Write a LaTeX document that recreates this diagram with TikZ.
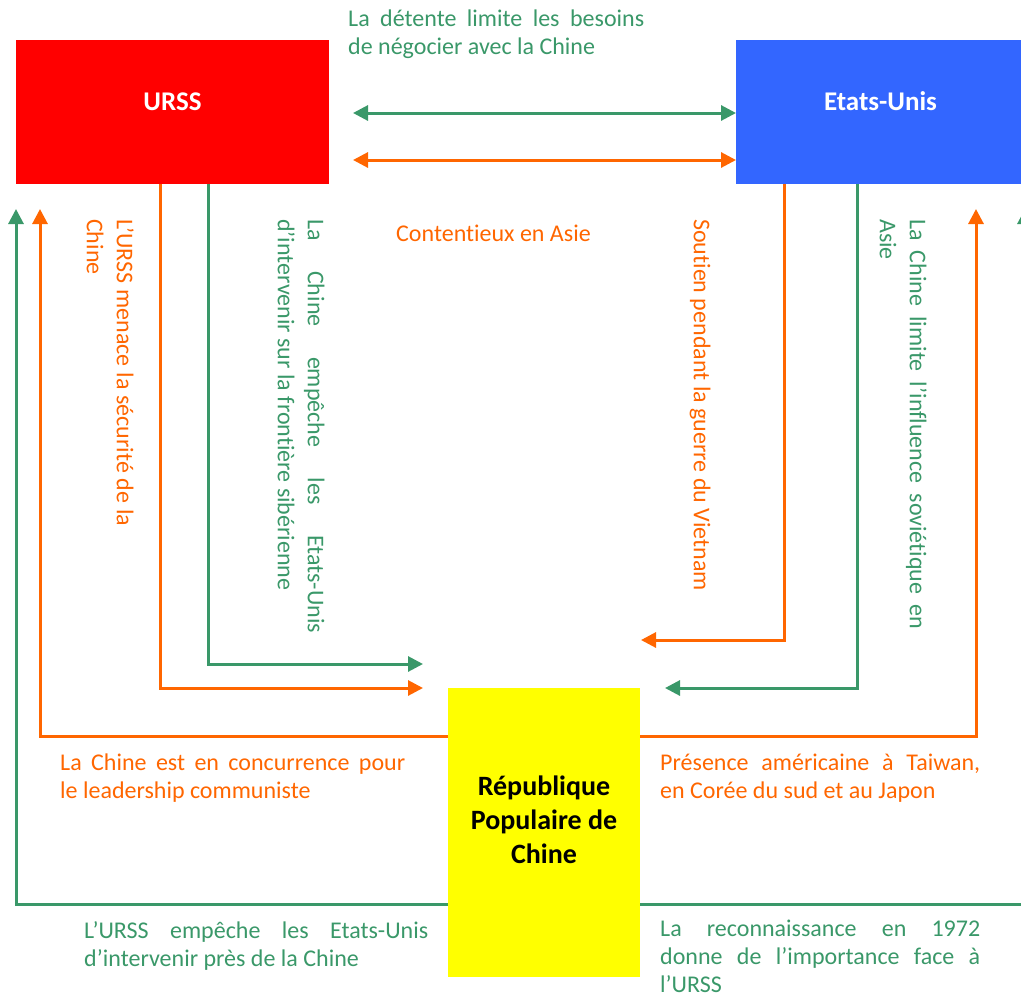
\documentclass[tikz,border=0pt]{standalone}
\usepackage{fontspec}
\setmainfont{Carlito}[Ligatures=NoCommon]
\usetikzlibrary{arrows.meta}
\definecolor{cgreen}{RGB}{58,152,105}
\definecolor{corange}{RGB}{255,102,0}
\definecolor{cred}{RGB}{255,0,0}
\definecolor{cblue}{RGB}{51,102,255}
\definecolor{cyellow}{RGB}{255,255,0}
\begin{document}
\begin{tikzpicture}[x=1pt,y=-1pt,
  box/.style={draw=none,inner sep=0pt,outer sep=0pt},
  boxlbl/.style={anchor=base,inner sep=0pt,font=\fontsize{27}{32}\selectfont\bfseries,text=white},
  htxt/.style={anchor=north west,inner sep=0pt,align=justify,font=\fontsize{24}{28}\selectfont},
  vtxt/.style={anchor=north west,inner sep=0pt,rotate=-90,align=justify,font=\fontsize{24}{30}\selectfont},
  conn/.style={line width=3pt,-{Triangle[length=15pt,width=15pt]}},
  dconn/.style={line width=3pt,{Triangle[length=15pt,width=15pt]}-{Triangle[length=15pt,width=15pt]}},
]
\useasboundingbox (0,0) rectangle (1021,997);

% boxes
\node[box,fill=cred,minimum width=313pt,minimum height=144pt] (urss) at (172.5,112) {};
\node[boxlbl] (urssl) at (172.5,110) {URSS};
\node[box,fill=cblue,minimum width=289pt,minimum height=144pt] (us) at (880.5,112) {};
\node[boxlbl] (usl) at (880.5,110) {Etats-Unis};
\node[box,fill=cyellow,minimum width=192pt,minimum height=289pt] (china) at (544,832.5) {};
\node[anchor=north,inner sep=0pt,align=center,font=\fontsize{28}{34}\selectfont\bfseries,text=black] (chinal) at (544,771)
  {\strut République\\Populaire de\\Chine};

% free ends
\coordinate (gT) at (353,113);
\coordinate (oT) at (353,160);
\coordinate (oU) at (423,688);
\coordinate (gU) at (423,664);
\coordinate (oA) at (641,640);
\coordinate (gA) at (665,688);
\coordinate (oL) at (40,209);
\coordinate (gL) at (16,209);
\coordinate (oR) at (976,209);
\coordinate (gR) at (1025,209);

% connectors
\draw[dconn,cgreen] (gT) -- (us.west |- gT);
\draw[dconn,corange] (oT) -- (us.west |- oT);
\draw[conn,corange] ([xshift=144pt]urss.south west) |- (oU);
\draw[conn,cgreen] ([xshift=192pt]urss.south west) |- (gU);
\draw[conn,corange] ([xshift=48pt]us.south west) |- (oA);
\draw[conn,cgreen] ([xshift=121pt]us.south west) |- (gA);
\draw[conn,corange] ([yshift=-48pt]china.north west) -| (oL);
\draw[conn,cgreen] ([yshift=-216pt]china.north west) -| (gL);
\draw[conn,corange] ([yshift=-48pt]china.north east) -| (oR);
\draw[conn,cgreen] ([yshift=-216pt]china.north east) -| (gR);

% horizontal texts
\node[htxt,text=cgreen,text width=296pt] (t1) at (348,6.4)
  {\noindent\strut La détente limite les besoins\linebreak de négocier avec la Chine};
\node[anchor=base west,inner sep=0pt,font=\fontsize{24}{28}\selectfont,text=corange] (t2) at (396,241) {Contentieux en Asie};
\node[htxt,text=corange,text width=345pt] (t3) at (60,750.4)
  {\noindent\strut La Chine est en concurrence pour\linebreak le leadership communiste};
\node[htxt,text=corange,text width=320pt] (t4) at (660,750.4)
  {\noindent\strut Présence américaine à Taiwan,\linebreak en Corée du sud et au Japon};
\node[htxt,text=cgreen,text width=344pt] (t5) at (84,918.4)
  {\noindent\strut L’URSS empêche les Etats-Unis\linebreak d’intervenir près de la Chine};
\node[htxt,text=cgreen,text width=320pt] (t6) at (660,917)
  {\noindent\strut La reconnaissance en 1972\linebreak donne de l’importance face à\linebreak l’URSS};

% vertical texts
\node[vtxt,text=corange,text width=330pt,align=left] (v1) at (138,219)
  {\spaceskip=0.24em\strut L’URSS menace la sécurité de la\\Chine};
\node[vtxt,text=cgreen,text width=414pt] (v2) at (329,219)
  {\noindent\strut La Chine empêche les Etats-Unis\linebreak d’intervenir sur la frontière sibérienne};
\node[vtxt,text=corange,align=left] (v3) at (715,219)
  {\strut Soutien pendant la guerre du Vietnam};
\node[vtxt,text=cgreen,text width=410pt] (v4) at (931,219)
  {\noindent\strut La Chine limite l’influence soviétique en\linebreak Asie};
\end{tikzpicture}
\end{document}
